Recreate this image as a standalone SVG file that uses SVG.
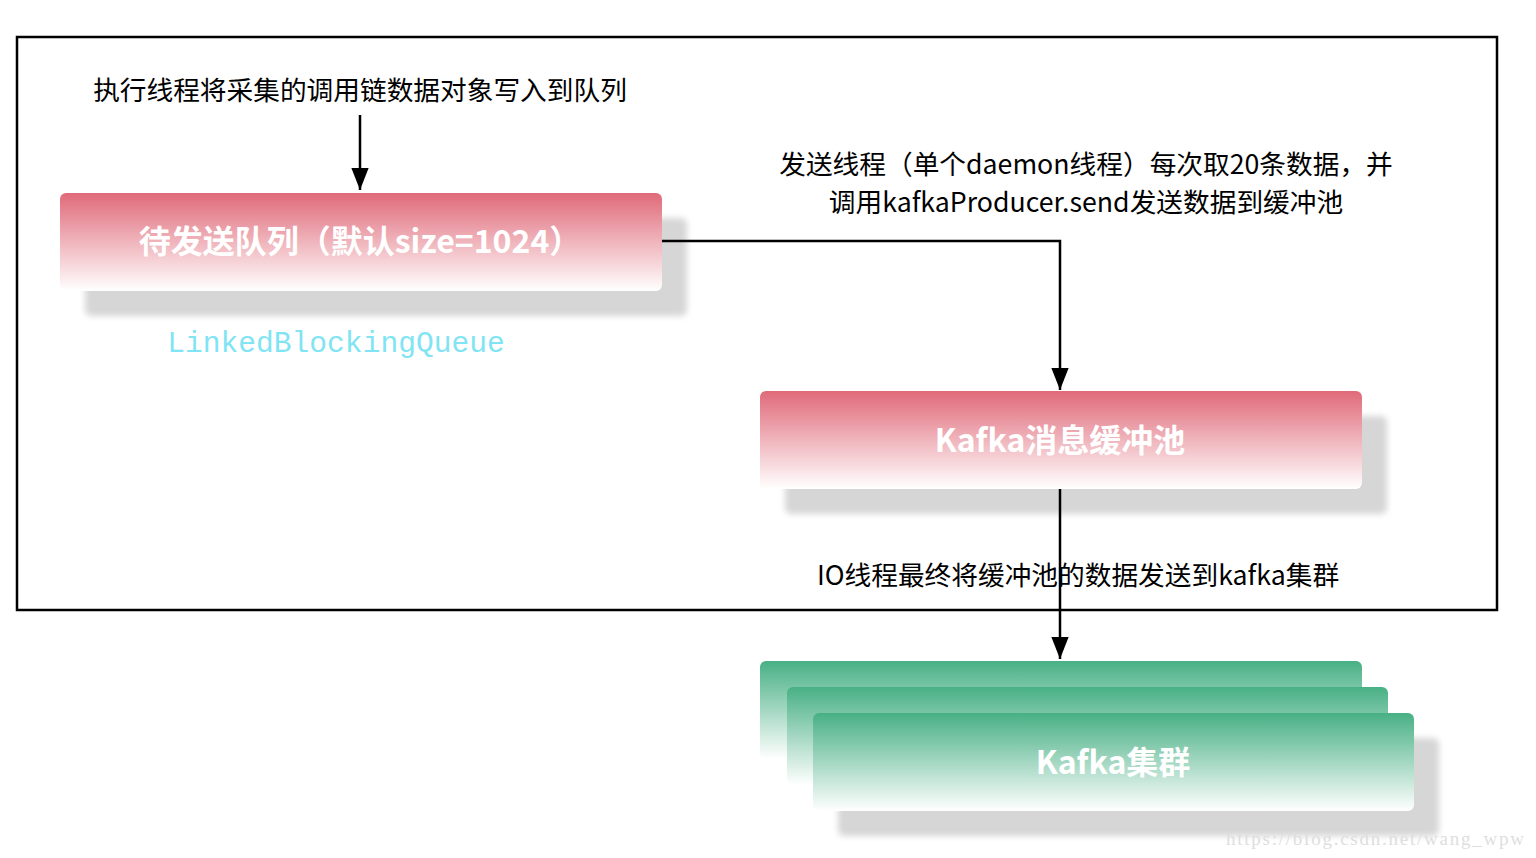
<svg xmlns="http://www.w3.org/2000/svg" width="1536" height="858" viewBox="0 0 1536 858">
<defs>
<linearGradient id="gRed" x1="0" y1="0" x2="0" y2="1">
<stop offset="0" stop-color="#e06a79"/>
<stop offset="1" stop-color="#ffffff"/>
</linearGradient>
<linearGradient id="gGreen" x1="0" y1="0" x2="0" y2="1">
<stop offset="0" stop-color="#48b085"/>
<stop offset="1" stop-color="#ffffff"/>
</linearGradient>
<filter id="blur" x="-10%" y="-30%" width="120%" height="160%">
<feGaussianBlur stdDeviation="3"/>
</filter>
<marker id="arr" markerWidth="22" markerHeight="22" refX="28" refY="11" orient="auto" markerUnits="userSpaceOnUse" viewBox="0 0 28 22">
<path d="M0,0 L28,11 L0,22 Z" fill="#000"/>
</marker>
</defs>
<style>
.lbl{font-family:"Noto Sans CJK SC","Liberation Sans",sans-serif;font-size:26.7px;fill:#000;text-anchor:middle}
.nt{font-family:"Noto Sans CJK SC","Liberation Sans",sans-serif;font-size:32px;font-weight:bold;fill:#fff;text-anchor:middle}
.sh{fill:#d6d6d6;filter:url(#blur)}
.conn{stroke:#000;stroke-width:2.5;fill:none}
</style>
<rect width="1536" height="858" fill="#fff"/>
<rect id="frame" x="17" y="37" width="1480" height="573" fill="none" stroke="#000" stroke-width="2.5"/>

<g id="queue">
<rect class="sh" x="85" y="218" width="602" height="98" rx="6"/>
<rect x="60" y="193" width="602" height="98" rx="6" fill="url(#gRed)"/>
<text class="nt" x="360" y="253">待发送队列（默认size=1024）</text>
</g>
<text x="336" y="352" font-family="Liberation Mono, monospace" font-size="29.6" fill="#80e4f4" text-anchor="middle">LinkedBlockingQueue</text>

<g id="buffer">
<rect class="sh" x="785" y="416" width="602" height="98" rx="6"/>
<rect x="760" y="391" width="602" height="98" rx="6" fill="url(#gRed)"/>
<text class="nt" x="1060" y="452">Kafka消息缓冲池</text>
</g>

<g id="cluster">
<rect x="760" y="661" width="602" height="98" rx="6" fill="url(#gGreen)"/>
<rect x="787" y="687" width="601" height="98" rx="6" fill="url(#gGreen)"/>
<rect class="sh" x="838" y="738" width="601" height="98" rx="6"/>
<rect x="813" y="713" width="601" height="98" rx="6" fill="url(#gGreen)"/>
<text class="nt" x="1113" y="774">Kafka集群</text>
</g>

<g id="connectors">
<path class="conn" d="M360,115 L360,190" marker-end="url(#arr)"/>
<path class="conn" d="M662,241 L1060,241 L1060,390" marker-end="url(#arr)"/>
<path class="conn" d="M1060,489 L1060,659" marker-end="url(#arr)"/>
</g>

<g id="labels">
<text class="lbl" x="360" y="100">执行线程将采集的调用链数据对象写入到队列</text>
<text class="lbl" x="1086" y="174">发送线程（单个daemon线程）每次取20条数据，并</text>
<text class="lbl" x="1086" y="212">调用kafkaProducer.send发送数据到缓冲池</text>
<text class="lbl" x="1078" y="585">IO线程最终将缓冲池的数据发送到kafka集群</text>
</g>
<text x="1226" y="845" font-family="Liberation Serif, serif" font-size="19" fill="#dedede" textLength="298" lengthAdjust="spacing">https://blog.csdn.net/wang_wpw</text>
</svg>
